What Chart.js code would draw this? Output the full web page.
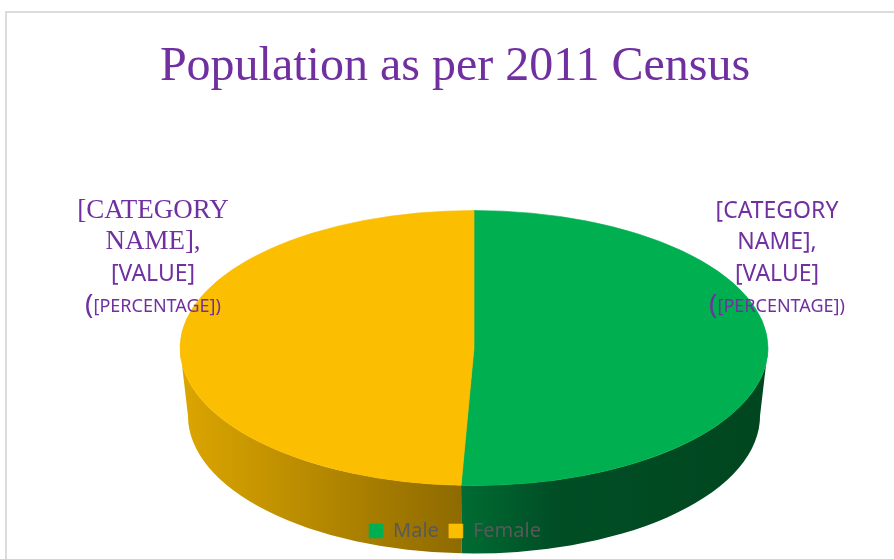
<!DOCTYPE html>
<html>
<head>
<meta charset="utf-8">
<title>Population as per 2011 Census</title>
<script src="https://cdn.jsdelivr.net/npm/chart.js@4.4.1/dist/chart.umd.min.js"></script>
<style>
    html, body { margin: 0; padding: 0; background: #fff; }
    .chart-box { position: relative; width: 894px; height: 559px; }
</style>
</head>
<body>
<div class="chart-box"><canvas id="censusChart"></canvas></div>
<script>
const chartTitle = 'Population as per 2011 Census';
const categories = [ 'Male', 'Female' ];
const populationShare = [ 50.7, 49.3 ];
const labelLines = [ '[CATEGORY', 'NAME],', '[VALUE]', '([PERCENTAGE])' ];

const sliceColors = [ '#00B050', '#FBBE00' ];
// wall shading, left -> right across the visible front wall of each slice
const sideShades = [
    [ [ 0, '#006C33' ], [ 0.3, '#004E25' ], [ 1, '#00461F' ] ],
    [ [ 0, '#DCA600' ], [ 1, '#8E6A00' ] ]
];
// how many label lines are set in the serif face, per slice
const serifLineCount = [ 0, 2 ];

const PURPLE = '#7030A0';
const SERIF = '"Liberation Serif", "Times New Roman", serif';
const SANS = '"Noto Sans", "Open Sans", sans-serif';

// the flat pie is squashed into this ellipse and given a wall below it
const pie = { cx: 474, cy: 348, rx: 294, ry: 137.5, depth: 68, bottomRx: 286 };

function drawLabel(ctx, centerX, baseline, serifLines) {
    const step = 31.3;
    ctx.save();
    ctx.fillStyle = PURPLE;
    ctx.textBaseline = 'alphabetic';
    ctx.textAlign = 'center';
    for (let i = 0; i < 3; i++) {
        ctx.font = i < serifLines ? `27px ${SERIF}` : `23px ${SANS}`;
        ctx.fillText(labelLines[i], centerX, baseline + i * step);
    }
    // last line: big opening paren, smaller bracketed text
    const last = labelLines[3];
    const head = last.slice(0, 1);
    const tail = last.slice(1);
    const y = baseline + 3 * step;
    const bigFont = `28px ${SANS}`;
    const smallFont = `18px ${SANS}`;
    ctx.textAlign = 'left';
    ctx.font = bigFont;
    const wHead = ctx.measureText(head).width;
    ctx.font = smallFont;
    const wTail = ctx.measureText(tail).width;
    const x0 = centerX - (wHead + wTail) / 2;
    ctx.font = bigFont;
    ctx.fillText(head, x0, y + 2);
    ctx.font = smallFont;
    ctx.fillText(tail, x0 + wHead, y);
    ctx.restore();
}

const tiltedPie = {
    id: 'tiltedPie',
    beforeDraw(chart) {
        // light frame of the chart area, runs off the right and bottom edges
        const ctx = chart.ctx;
        ctx.save();
        ctx.strokeStyle = '#DCDCDC';
        ctx.lineWidth = 2;
        ctx.strokeRect(6, 12, 2000, 2000);
        ctx.restore();
    },
    beforeDatasetsDraw(chart) {
        const ctx = chart.ctx;
        const arcs = chart.getDatasetMeta(0).data;

        // front wall: only the part of each slice between 0 and PI faces us
        arcs.forEach((arc, i) => {
            const t0 = Math.max(arc.startAngle, 0);
            const t1 = Math.min(arc.endAngle, Math.PI);
            if (t1 <= t0) return;
            const xa = pie.cx + pie.rx * Math.cos(t1);
            const xb = pie.cx + pie.rx * Math.cos(t0);
            const grad = ctx.createLinearGradient(Math.min(xa, xb), 0, Math.max(xa, xb), 0);
            sideShades[i].forEach(([ at, c ]) => grad.addColorStop(at, c));
            ctx.beginPath();
            ctx.ellipse(pie.cx, pie.cy, pie.rx, pie.ry, 0, t0, t1);
            ctx.ellipse(pie.cx, pie.cy + pie.depth, pie.bottomRx, pie.ry, 0, t1, t0, true);
            ctx.closePath();
            ctx.fillStyle = grad;
            ctx.fill();
        });

        // top face: let Chart.js draw its arcs through a squashing transform
        const r = arcs[0].outerRadius;
        ctx.save();
        ctx.translate(pie.cx, pie.cy);
        ctx.scale(pie.rx / r, pie.ry / r);
        ctx.translate(-arcs[0].x, -arcs[0].y);
    },
    afterDatasetsDraw(chart) {
        chart.ctx.restore();
    },
    afterDraw(chart) {
        const ctx = chart.ctx;
        // legend sits on top of the wall
        chart.legend.draw();

        const arcs = chart.getDatasetMeta(0).data;
        arcs.forEach((arc, i) => {
            const mid = (arc.startAngle + arc.endAngle) / 2;
            const onRight = Math.cos(mid) > 0;
            const x = onRight ? pie.cx + pie.rx + 9 : pie.cx - pie.rx - 27;
            drawLabel(ctx, x, pie.cy - 130, serifLineCount[i]);
        });
    }
};

new Chart(document.getElementById('censusChart'), {
    type : 'pie',
    data : {
        labels : categories,
        datasets : [ {
            data : populationShare,
            backgroundColor : sliceColors,
            borderColor : sliceColors,
            borderWidth : 0.6
        } ]
    },
    options : {
        responsive : true,
        maintainAspectRatio : false,
        animation : false,
        events : [],
        layout : {
            padding : { left : 16, bottom : 8 }
        },
        plugins : {
            title : {
                display : true,
                text : chartTitle,
                color : PURPLE,
                font : { family : SERIF, size : 48, weight : 'normal', lineHeight : 1.2 },
                padding : { top : 39, bottom : 0 }
            },
            legend : {
                display : true,
                position : 'bottom',
                labels : {
                    color : '#595959',
                    boxWidth : 14,
                    boxHeight : 14,
                    padding : 10,
                    font : { family : SANS, size : 20 }
                }
            },
            tooltip : { enabled : false }
        }
    },
    plugins : [ tiltedPie ]
});
</script>
</body>
</html>
